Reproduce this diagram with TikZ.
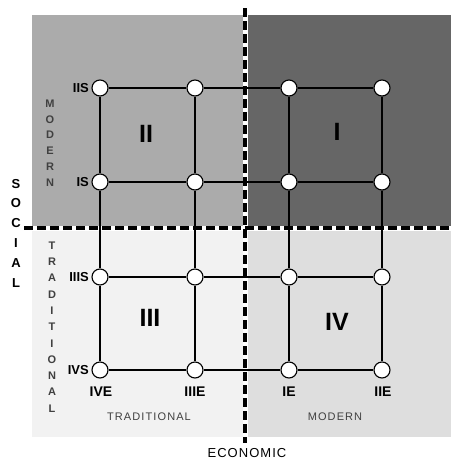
\documentclass[tikz,border=0pt]{standalone}
\usepackage{fontspec}
\setmainfont{Liberation Sans}
\begin{document}
\begin{tikzpicture}[x=1pt,y=-1pt,
  pt/.style={circle,draw=black,fill=white,line width=1.1pt,minimum size=16pt,inner sep=0pt},
  gridline/.style={line width=1.2pt},
  lbl/.style={font=\fontsize{13}{15}\selectfont\bfseries,inner sep=0pt},
  blbl/.style={font=\fontsize{14}{16}\selectfont\bfseries,inner sep=0pt},
  quad/.style={font=\fontsize{25}{28}\selectfont\bfseries,inner sep=0pt},
  vword/.style={align=center,inner sep=0pt,text=black!75},
  hword/.style={inner sep=0pt,text=black!75,font=\fontsize{11}{13}\selectfont\addfontfeature{LetterSpace=10}},
  divw/.style={white,line width=5pt},
  divb/.style={black,line width=3.2pt,dash pattern=on 9pt off 4pt}]
\useasboundingbox (0,0) rectangle (451,459);
% quadrant fills
\fill[black!33] (32,15) rectangle (245,228);
\fill[black!60] (245,15) rectangle (451,228);
\fill[black!5] (32,228) rectangle (245,437);
\fill[black!13] (245,228) rectangle (451,437);
% dividing dashed lines
\coordinate (vt) at (245,8);
\coordinate (vb) at (245,443);
\coordinate (hl) at (24,228);
\coordinate (hr) at (451,228);
\draw[divw] (vt) -- (vb);
\draw[divw] (hl) -- (hr);
\draw[divb] (hl) -- (hr);
\draw[divb] (vt) -- (vb);
% grid nodes
\foreach \c/\x in {1/100,2/195,3/289,4/382}{
  \foreach \r/\y in {1/88,2/182,3/277,4/370}{
    \node[pt] (n\r\c) at (\x,\y) {};
  }
}
% grid connectors
\foreach \r in {1,2,3,4}{
  \draw[gridline] (n\r1) -- (n\r2);
  \draw[gridline] (n\r2) -- (n\r3);
  \draw[gridline] (n\r3) -- (n\r4);
}
\foreach \c in {1,2,3,4}{
  \draw[gridline] (n1\c) -- (n2\c);
  \draw[gridline] (n2\c) -- (n3\c);
  \draw[gridline] (n3\c) -- (n4\c);
}
% side labels
\node[lbl,anchor=east] (lIIS) at (89,88) {IIS};
\node[lbl,anchor=east] (lIS) at (89,182) {IS};
\node[lbl,anchor=east] (lIIIS) at (89,277) {IIIS};
\node[lbl,anchor=east] (lIVS) at (89,370) {IVS};
% bottom labels
\node[blbl] (lIVE) at (101,392) {IVE};
\node[blbl] (lIIIE) at (195,392) {IIIE};
\node[blbl] (lIE) at (289,392) {IE};
\node[blbl] (lIIE) at (383,392) {IIE};
% quadrant numerals
\node[quad] (qII) at (146,134) {II};
\node[quad] (qI) at (337,132) {I};
\node[quad] (qIII) at (150,318) {III};
\node[quad] (qIV) at (337,322) {IV};
% vertical words
\node[vword,font=\fontsize{11}{15.8}\selectfont\bfseries] (vMod) at (50,143) {M\\O\\D\\E\\R\\N};
\node[vword,font=\fontsize{11}{16.3}\selectfont\bfseries] (vTrad) at (52,327) {T\\R\\A\\D\\I\\T\\I\\O\\N\\A\\L};
\node[vword,text=black,font=\fontsize{13}{19.8}\selectfont\bfseries] (vSoc) at (16,233) {S\\O\\C\\I\\A\\L};
% horizontal words
\node[hword] (hTrad) at (149,417) {TRADITIONAL};
\node[hword] (hMod) at (335,417) {MODERN};
\node[hword,text=black,font=\fontsize{13}{15}\selectfont\addfontfeature{LetterSpace=8}] (hEco) at (247,453) {ECONOMIC};
\end{tikzpicture}
\end{document}
